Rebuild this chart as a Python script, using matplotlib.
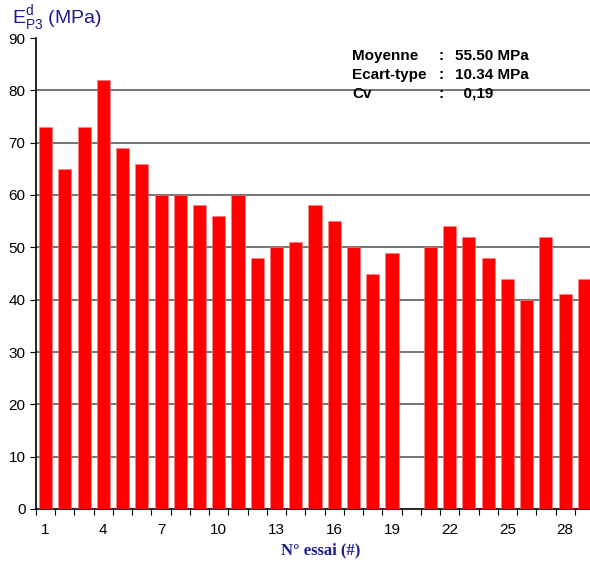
import matplotlib
matplotlib.use("Agg")
import matplotlib.pyplot as plt
import numpy as np

plt.rcParams['font.family'] = ['Liberation Sans', 'DejaVu Sans']

essais = list(range(1, 30))
valeurs = [73, 65, 73, 82, 69, 66, 60, 60, 58, 56, 60, 48, 50, 51, 58,
           55, 50, 45, 49, np.nan, 50, 54, 52, 48, 44, 40, 52, 41, 44]
tick_labels = [1, 4, 7, 10, 13, 16, 19, 22, 25, 28]

stat_noms = ["Moyenne", "Ecart-type", "Cv"]
stat_vals = ["55.50 MPa", "10.34 MPa", "  0,19"]

navy = "#1c1c8a"

fig = plt.figure(figsize=(5.9, 5.65), dpi=100)
ax = fig.add_axes([36 / 590, 56 / 565, 558 / 590, 471 / 565])

ax.bar(essais, valeurs, width=0.68, color="#ff0000", edgecolor="#ff8080",
       linewidth=0.4, zorder=3)

ax.set_xlim(0.5, 29.5)
ax.set_ylim(0, 90)
ax.set_yticks(range(0, 100, 10))
ax.set_xticks(np.arange(0.5, 30, 1))
ax.set_xticklabels([])
ax.set_xticks(tick_labels, minor=True)
ax.set_xticklabels([str(t) for t in tick_labels], minor=True)
ax.tick_params(axis='x', which='minor', length=0, pad=10, labelsize=11)
ax.tick_params(axis='x', which='major', length=4, direction='out')
ax.tick_params(axis='y', length=4, direction='out', labelsize=11)

for y in range(10, 90, 10):
    ax.axhline(y, color="#505050", linewidth=1.1, zorder=1)

ax.spines['top'].set_visible(False)
ax.spines['right'].set_visible(False)
ax.spines['left'].set_linewidth(1.2)
ax.spines['bottom'].set_linewidth(1.2)

fig.text(12 / 590, 1 - 19 / 565, r"E$^{\mathregular{d}}_{\mathregular{P3}}$ (MPa)",
         fontsize=14, color=navy, va='center', ha='left')

fig.text(321 / 590, 1 - 550 / 565, "N° essai (#)", fontsize=12, color=navy,
         fontweight='bold', family=['Liberation Serif', 'DejaVu Serif'],
         ha='center', va='center')

for i, (nom, val) in enumerate(zip(stat_noms, stat_vals)):
    y = 1 - (56 + i * 19) / 565
    fig.text(352 / 590, y, nom, fontsize=11, fontweight='bold', va='center')
    fig.text(438 / 590, y, ":", fontsize=11, fontweight='bold', va='center')
    fig.text(455 / 590, y, val, fontsize=11, fontweight='bold', va='center')

fig.savefig("out.png", dpi=100)
